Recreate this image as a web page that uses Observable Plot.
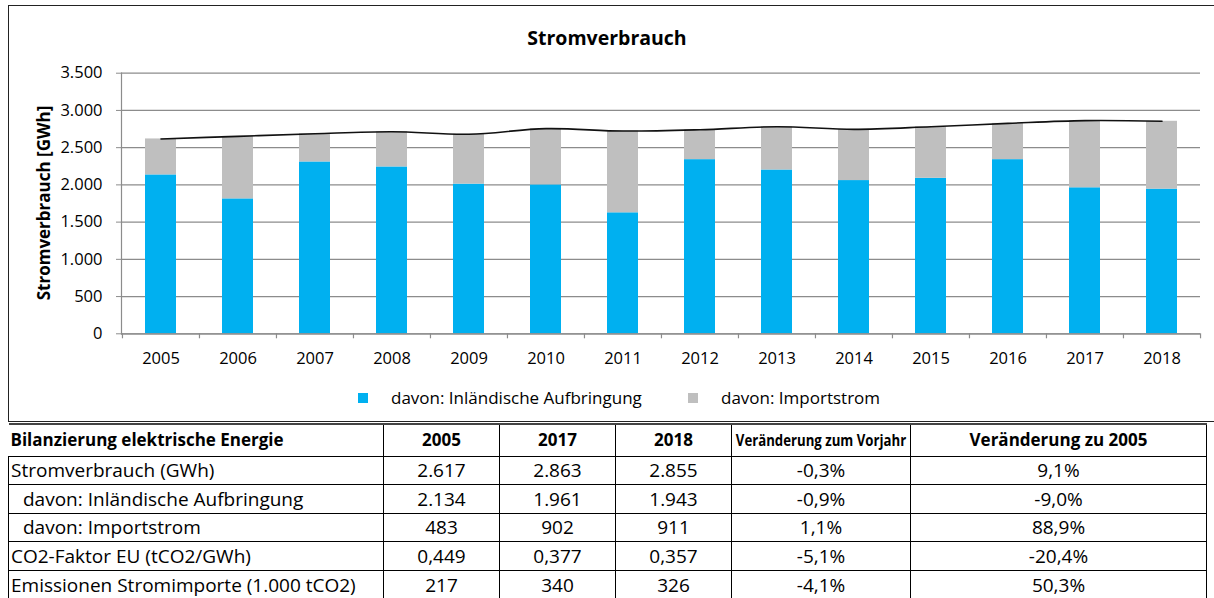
<!DOCTYPE html>
<html>
<head>
<meta charset="utf-8">
<script src="https://cdn.jsdelivr.net/npm/d3@7"></script>
<script src="https://cdn.jsdelivr.net/npm/@observablehq/plot@0.6"></script>
<style>
  html, body { margin: 0; padding: 0; background: #fff; }
  body { width: 1214px; height: 598px; position: relative; overflow: hidden; font-family: "Open Sans", Lato, sans-serif; color: #000; }
  #frame { position: absolute; left: 8px; top: 5px; width: 1220px; height: 417px; border: 1.5px solid #222; box-sizing: border-box; }
  #chart { position: absolute; left: 0; top: 0; }
  #title { position: absolute; left: 0; width: 1214px; top: 24px; text-align: center; font-weight: bold; font-size: 19.5px; }
  #ytitle { position: absolute; left: 43px; top: 203px; transform: translate(-50%, -50%) rotate(-90deg); font-weight: bold; font-size: 17px; white-space: nowrap; }
  .leg { position: absolute; top: 386px; font-size: 17px; white-space: nowrap; }
  .sw { position: absolute; top: 393px; width: 10px; height: 10px; }
  table { position: absolute; left: 8px; top: 423px; width: 1198px; border-collapse: collapse; table-layout: fixed; font-size: 19px; }
  td, th { padding: 0 2px; height: 28.6px; box-sizing: border-box; white-space: nowrap; line-height: 26px; }
  td { overflow: hidden; }
  th { position: relative; font-weight: bold; font-size: 17px; text-align: center; border-top: 2px solid #444; border-bottom: 1.5px solid #000; border-left: 1.5px solid #000; border-right: 1.5px solid #000; height: 32px; }
  th.first { text-align: left; border-left: none; }
  th span.fit { position: absolute; left: 50%; top: 50%; font-size: 16.5px; transform: translate(-50%, -50%) scaleX(0.8); white-space: nowrap; }
  td { border: 1.5px solid #000; text-align: center; }
  td.first { text-align: left; }
  td.indent { padding-left: 14px; }
</style>
</head>
<body>
<div id="chart"></div>
<div id="frame"></div>
<div id="title">Stromverbrauch</div>
<div id="ytitle">Stromverbrauch [GWh]</div>
<div id="legend"></div>
<div id="tablewrap"></div>
<script>
// ---- Chart data ----
const years = ["2005","2006","2007","2008","2009","2010","2011","2012","2013","2014","2015","2016","2017","2018"];
const inland = [2134, 1812, 2308, 2241, 2010, 2000, 1625, 2339, 2200, 2058, 2089, 2339, 1961, 1943];
const imports = [483, 840, 379, 473, 670, 755, 1098, 402, 581, 688, 692, 487, 902, 911];
const totals = [2617, 2652, 2687, 2714, 2680, 2755, 2723, 2741, 2781, 2746, 2781, 2826, 2863, 2855];
const seriesNames = ["davon: Inländische Aufbringung", "davon: Importstrom"];
const seriesColors = ["#00B0F0", "#BFBFBF"];
const yTicks = [0, 500, 1000, 1500, 2000, 2500, 3000, 3500];

// ---- Table data ----
const tableHeader = ["Bilanzierung elektrische Energie", "2005", "2017", "2018", "Veränderung zum Vorjahr", "Veränderung zu 2005"];
const rowLabels = ["Stromverbrauch (GWh)", "davon: Inländische Aufbringung", "davon: Importstrom", "CO2-Faktor EU (tCO2/GWh)", "Emissionen Stromimporte (1.000 tCO2)"];
const rowIndent = [false, true, true, false, false];
const col2005 = ["2.617", "2.134", "483", "0,449", "217"];
const col2017 = ["2.863", "1.961", "902", "0,377", "340"];
const col2018 = ["2.855", "1.943", "911", "0,357", "326"];
const colVorjahr = ["-0,3%", "-0,9%", "1,1%", "-5,1%", "-4,1%"];
const col2005chg = ["9,1%", "-9,0%", "88,9%", "-20,4%", "50,3%"];
const colWidths = [375, 116, 116, 116, 179, 296];

const fmt = d => d3.format(",")(d).replace(/,/g, ".");

const barData = [];
years.forEach((y, i) => {
  barData.push({year: y, series: seriesNames[0], value: inland[i]});
  barData.push({year: y, series: seriesNames[1], value: imports[i]});
});
const lineData = years.map((y, i) => ({year: y, total: totals[i]}));

const W = 1214, H = 420, mL = 121, mR = 14, mT = 72.7, mB = 86.7;
const step = (W - mL - mR) / years.length;
const grid = "#8c8c8c";

const chart = Plot.plot({
  width: W, height: H,
  marginLeft: mL, marginRight: mR, marginTop: mT, marginBottom: mB,
  style: {fontFamily: "'Open Sans', Lato, sans-serif", fontSize: "16px", color: "#000", background: "transparent", overflow: "visible"},
  x: {type: "band", domain: years, paddingInner: 0.6, paddingOuter: 0.3, label: null, axis: null},
  y: {domain: [0, 3500], label: null, axis: null},
  color: {domain: seriesNames, range: seriesColors},
  marks: [
    Plot.gridY(yTicks, {stroke: grid, strokeOpacity: 1, strokeWidth: 1.2}),
    Plot.barY(barData, {x: "year", y: "value", fill: "series", order: seriesNames}),
    Plot.line(lineData, {x: "year", y: "total", curve: "catmull-rom", stroke: "#111", strokeWidth: 1.6}),
    Plot.axisY({ticks: yTicks, tickFormat: fmt, tickSize: 5, tickPadding: 14, stroke: grid, fontSize: 16.5}),
    Plot.axisX({tickSize: 0, tickPadding: 18, fontSize: 16.5}),
    Plot.ruleY([0], {stroke: grid, strokeWidth: 1.2}),
    Plot.ruleX(years, {x: d => d, dx: -step / 2, y1: 0, y2: 0, insetBottom: -5, stroke: grid, strokeWidth: 1.2}),
    Plot.ruleX([years[years.length - 1]], {x: d => d, dx: step / 2, y1: 0, y2: 0, insetBottom: -5, stroke: grid, strokeWidth: 1.2}),
    Plot.frame({anchor: "left", stroke: grid, strokeWidth: 1.2})
  ]
});
document.getElementById("chart").appendChild(chart);

// legend
const legend = document.getElementById("legend");
const legPos = [[358, 391], [688, 721]];
seriesNames.forEach((s, i) => {
  const sw = document.createElement("div");
  sw.className = "sw"; sw.style.left = legPos[i][0] + "px"; sw.style.background = seriesColors[i];
  legend.appendChild(sw);
  const t = document.createElement("div");
  t.className = "leg"; t.style.left = legPos[i][1] + "px"; t.textContent = s;
  legend.appendChild(t);
});

// table
const table = document.createElement("table");
const cg = document.createElement("colgroup");
colWidths.forEach(w => { const c = document.createElement("col"); c.style.width = w + "px"; cg.appendChild(c); });
table.appendChild(cg);
const hr = document.createElement("tr");
tableHeader.forEach((h, j) => {
  const th = document.createElement("th");
  if (j === 4) { const sp = document.createElement("span"); sp.className = "fit"; sp.textContent = h; th.appendChild(sp); }
  else th.textContent = h;
  if (j === 0) th.className = "first";
  hr.appendChild(th);
});
table.appendChild(hr);
rowLabels.forEach((lab, i) => {
  const tr = document.createElement("tr");
  [lab, col2005[i], col2017[i], col2018[i], colVorjahr[i], col2005chg[i]].forEach((v, j) => {
    const td = document.createElement("td"); td.textContent = v;
    if (j === 0) td.className = "first" + (rowIndent[i] ? " indent" : "");
    tr.appendChild(td);
  });
  table.appendChild(tr);
});
document.getElementById("tablewrap").appendChild(table);
</script>
</body>
</html>
